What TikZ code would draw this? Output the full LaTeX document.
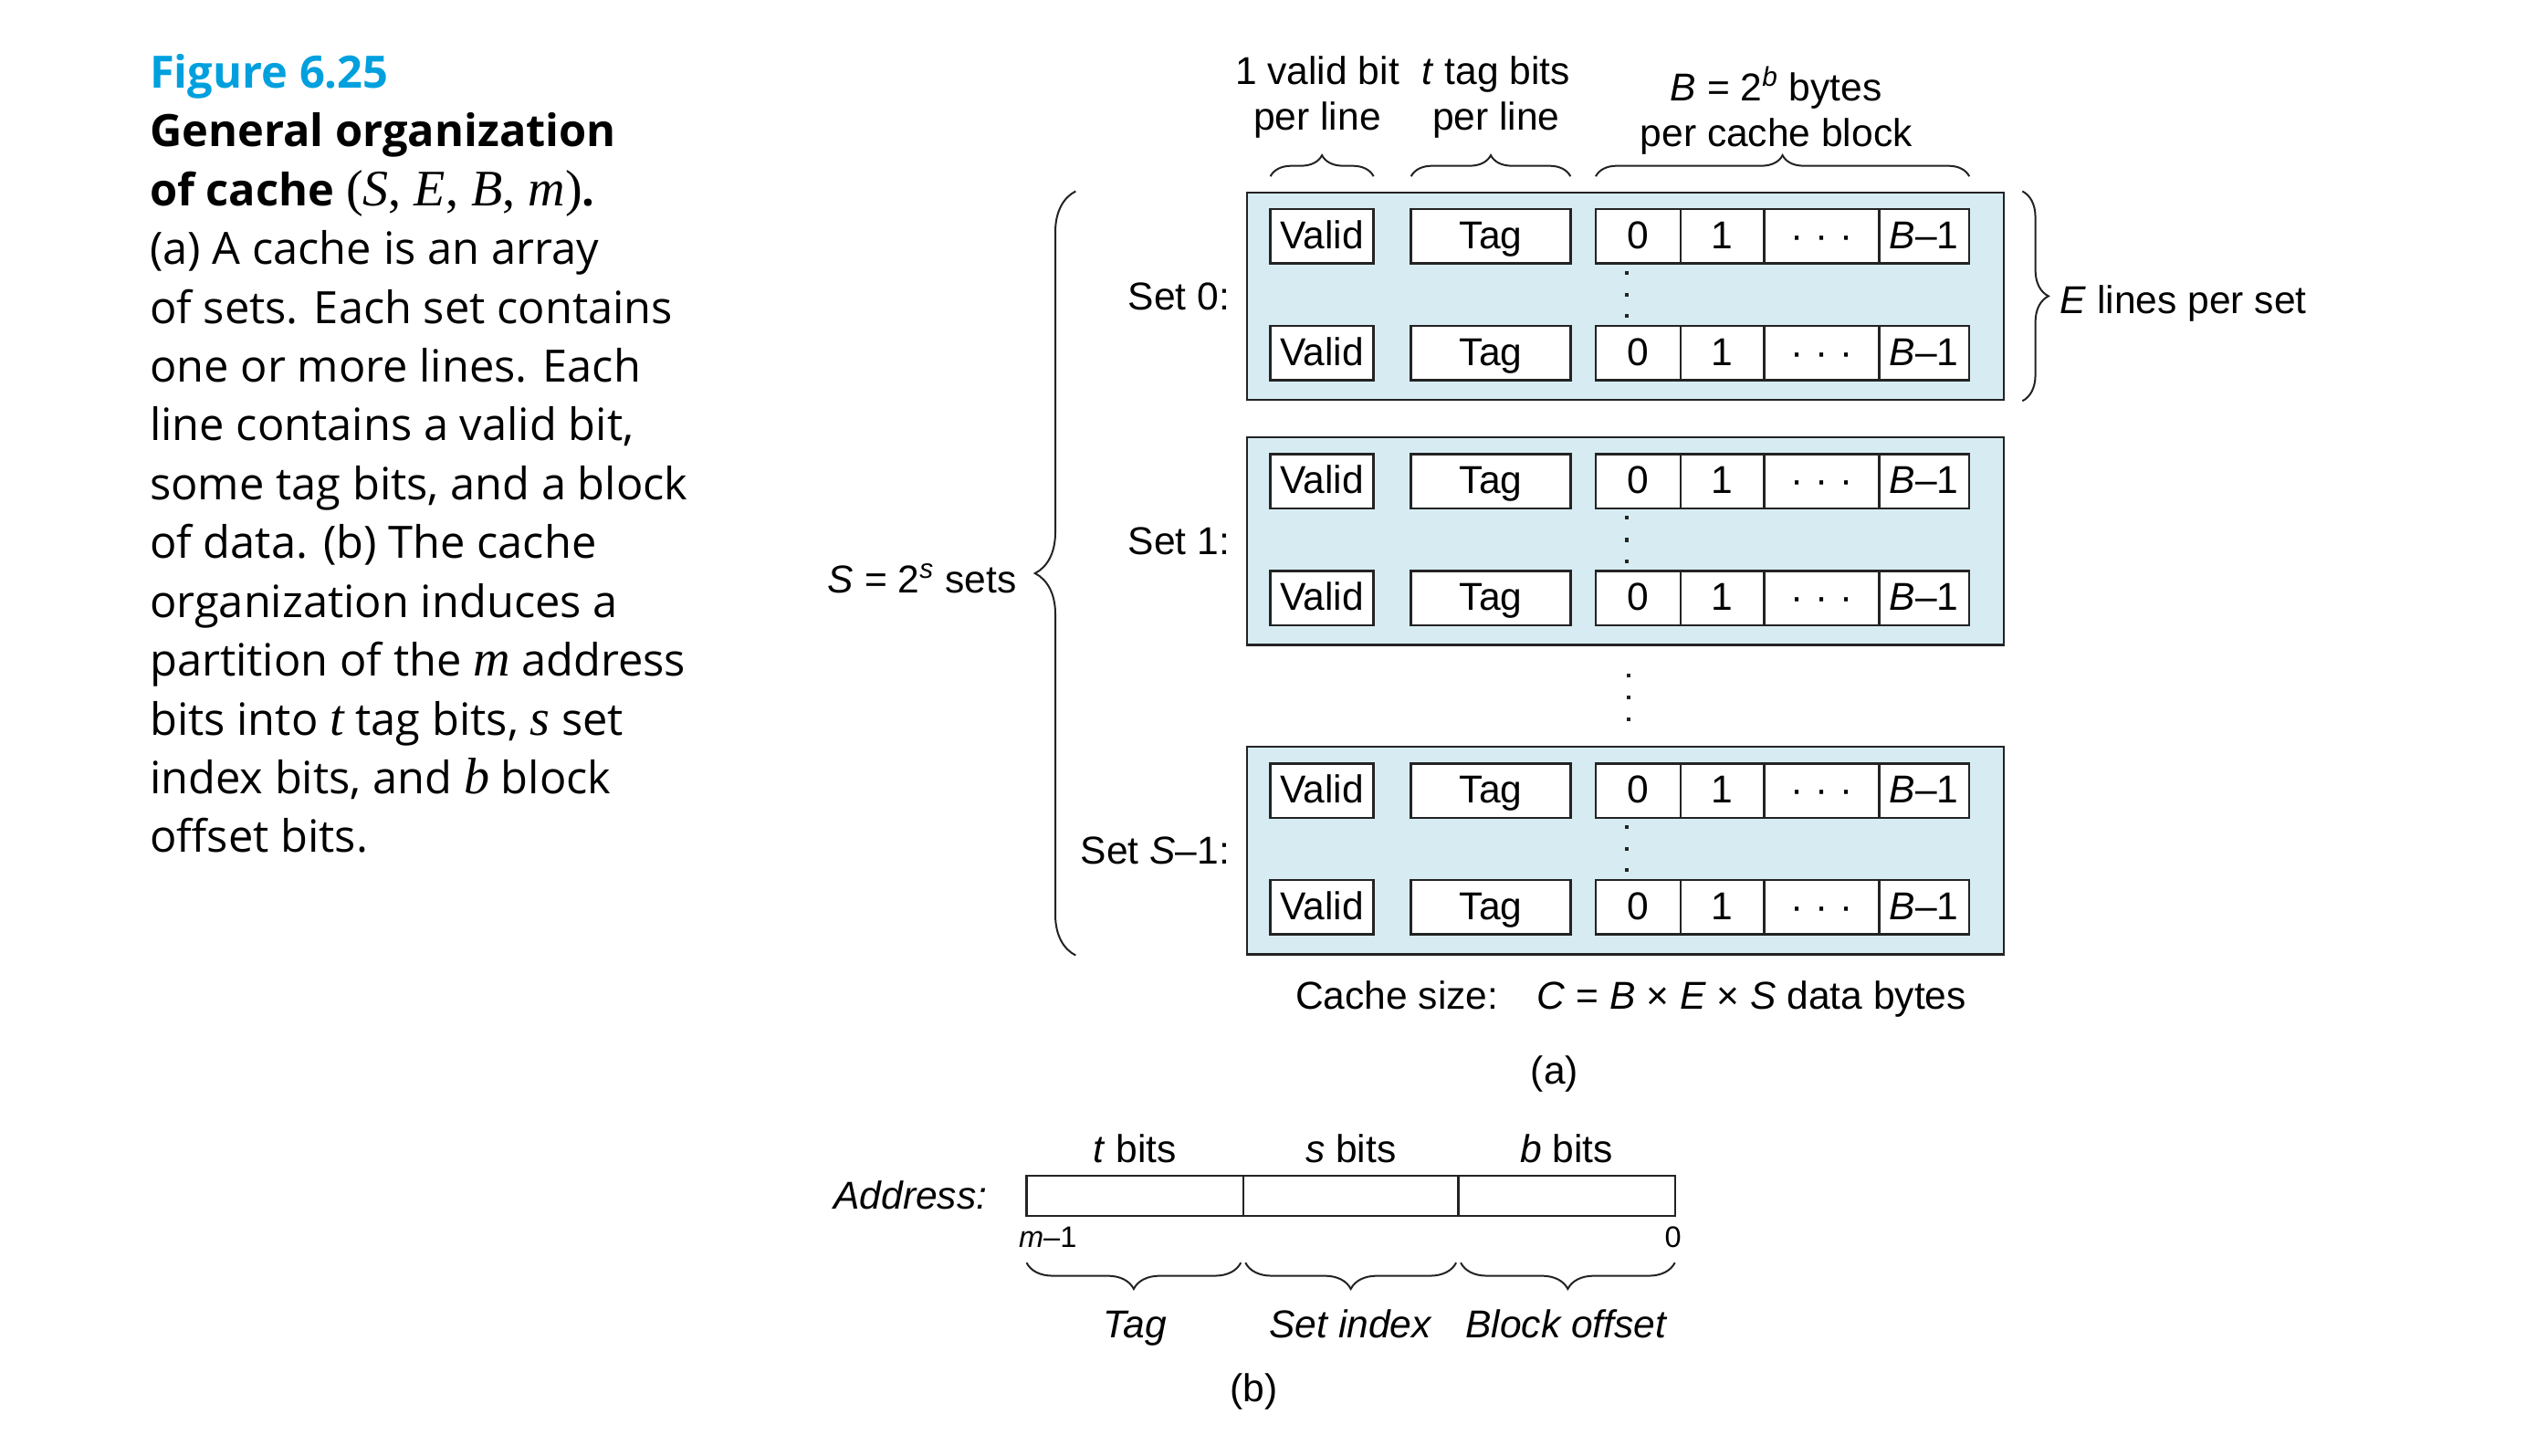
\documentclass[tikz,border=0pt]{standalone}
\usepackage{fontspec}
\setmainfont{Liberation Sans}
\newfontfamily\capfont{Open Sans}
\newfontfamily\serifvar[Scale=1.15]{Liberation Serif}
\usetikzlibrary{positioning,decorations.pathreplacing}
\definecolor{FigBlue}{RGB}{0,160,222}
\definecolor{SetFill}{RGB}{214,236,242}
\definecolor{InkGray}{RGB}{35,35,35}
\newcommand{\dfont}{\fontsize{17}{19.9}\selectfont}
\newcommand{\capvar}[1]{{\serifvar\itshape #1}}
\newcommand{\middots}{·\hspace{0.3em}·\hspace{0.3em}·}
\tikzset{
  setbox/.style={draw=InkGray, line width=0.9pt, fill=SetFill, minimum width=11.65cm,
    minimum height=3.195cm, inner sep=0pt},
  cell/.style={draw=InkGray, line width=1pt, fill=white, minimum height=0.8375cm,
    inner sep=0pt, outer sep=0pt, font=\dfont, text height=12.75pt, text depth=2pt},
  vcell/.style={cell, minimum width=1.5875cm},
  tcell/.style={cell, minimum width=2.4525cm},
  dcell/.style={cell, minimum width=#1},
  afield/.style={draw=InkGray, line width=0.9pt, fill=white, minimum height=0.6175cm,
    inner sep=0pt, outer sep=0pt, minimum width=#1},
  lab/.style={font=\dfont, inner sep=0pt, align=center},
  smalllab/.style={font=\fontsize{13}{15}\selectfont, inner sep=0pt},
  curly/.style={decorate, decoration={brace, amplitude=#1}, line width=0.8pt, InkGray},
}

\begin{document}
\begin{tikzpicture}[x=0.025cm, y=-0.025cm]
  \useasboundingbox (0,0) rectangle (1568,896);
  % caption
  \node[anchor=north west, align=left, inner sep=0pt,
    font=\capfont\fontsize{19.5}{25.75}\selectfont] (caption) at (92,33)
    {{\color{FigBlue}\bfseries Figure 6.25}\\
     {\bfseries General organization}\\
     {\bfseries of cache} {\serifvar(\textit{S}, \textit{E}, \textit{B}, \textit{m})}{\bfseries .}\\
     (a) A cache is an array\\
     of sets. Each set contains\\
     one or more lines. Each\\
     line contains a valid bit,\\
     some tag bits, and a block\\
     of data. (b) The cache\\
     organization induces a\\
     partition of the \capvar{m} address\\
     bits into \capvar{t} tag bits, \capvar{s} set\\
     index bits, and \capvar{b} block\\
     offset bits.};

  % the sets
  \foreach \s/\yt/\setname in {0/118.4/{Set 0:}, 1/269.3/{Set 1:}, L/459.7/{Set \textit{S}--1:}} {
    \node[setbox] (set\s) at (1000.65,\yt+63.9) {};
    \node[lab, left=0.24cm of set\s] (lab\s) {\setname};
    \foreach \r/\dy in {1/27.05, 2/98.85} {
      \node[vcell] (v\s\r) at (813.85,\yt+\dy) {Valid};
      \node[tcell] (t\s\r) at (917.75,\yt+\dy) {Tag};
      \node[dcell=1.3075cm] (c\s\r-0) at (1008.55,\yt+\dy) {0};
      \node[dcell=1.2825cm, right=0pt of c\s\r-0] (c\s\r-1) {1};
      \node[dcell=1.77cm, right=0pt of c\s\r-1] (c\s\r-2) {\middots};
      \node[dcell=1.3875cm, right=0pt of c\s\r-2] (c\s\r-3) {\textit{B}--1};
    }
    \foreach \dy in {49.6,63.1,76.1}
      \fill[InkGray] (1000.55,\yt+\dy-1.15) rectangle ++(2.3,2.3);
  }
  \foreach \y in {415.9,429.2,442.7}
    \fill[InkGray] (1001.25,\y-1.15) rectangle ++(2.3,2.3);

  % braces round set 0 and the sets
  \draw[curly=9.25pt, decoration={raise=14.3pt}] (v01.north west) -- (v01.north east);
  \draw[curly=9.25pt, decoration={raise=14.3pt}] (t01.north west) -- (t01.north east);
  \draw[curly=9.25pt, decoration={raise=14.3pt}] (c01-0.north west) -- (c01-3.north east);
  \draw[curly=11.4pt, decoration={raise=7.6pt}] (set0.north east) -- (set0.south east);
  \draw[curly=17.8pt, decoration={raise=74.5pt}] (setL.south west) -- (set0.north west);

  \node[lab] (vlab) at (811,60) {1 valid bit\\per line};
  \node[lab] (tlab) at (921,60) {\textit{t} tag bits\\per line};
  \node[lab] (blab) at (1093.5,68) {\textit{B} = 2\textsuperscript{\textit{b}} bytes\\per cache block};
  \node[lab, anchor=west] (elab) at (1268,187) {\textit{E} lines per set};
  \node[lab, anchor=east] (slab) at (626,356) {\textit{S} = 2\textsuperscript{\textit{s}} sets};
  \node[lab] (csize) at (1004,615) {Cache size:\quad\textit{C} = \textit{B} × \textit{E} × \textit{S} data bytes};
  \node[lab] (pa) at (957,661) {(a)};

  % address
  \node[afield=3.3325cm] (af1) at (698.65,736.05) {};
  \node[afield=3.3125cm, right=0pt of af1] (af2) {};
  \node[afield=3.33cm, right=0pt of af2] (af3) {};
  \node[lab, left=0.6cm of af1] (addr) {\textit{Address:}};
  \node[lab, above=0.18cm of af1] (tb) {\textit{t} bits};
  \node[lab, above=0.18cm of af2] (sb) {\textit{s} bits};
  \node[lab, above=0.18cm of af3] (bb) {\textit{b} bits};
  \node[smalllab, anchor=base west] (hi) at (627,768) {\textit{m}--1};
  \node[smalllab, anchor=base] (lo) at (1030,768) {0};
  \draw[curly=11.5pt, decoration={raise=20.6pt}] ([xshift=-1pt]af1.south east) -- (af1.south west);
  \draw[curly=11.5pt, decoration={raise=20.6pt}] ([xshift=-1pt]af2.south east) -- ([xshift=1pt]af2.south west);
  \draw[curly=11.5pt, decoration={raise=20.6pt}] (af3.south east) -- ([xshift=1pt]af3.south west);
  \node[lab, anchor=base] (tagl) at (af1 |- 0,823.6) {\textit{Tag}};
  \node[lab, anchor=base] (setl) at (af2 |- 0,823.6) {\textit{Set index}};
  \node[lab, anchor=base] (offl) at (af3 |- 0,823.6) {\textit{Block offset}};
  \node[lab] (pb) at (772,857) {(b)};
\end{tikzpicture}
\end{document}
